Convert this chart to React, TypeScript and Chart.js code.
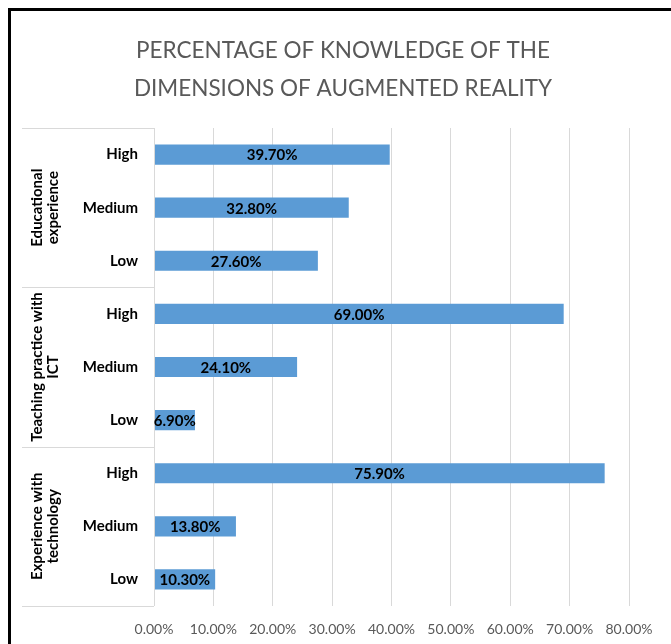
import React, { useEffect, useRef } from "react";
import { Chart, registerables } from "chart.js";

Chart.register(...registerables);

const titleLines = ["PERCENTAGE OF KNOWLEDGE OF THE", "DIMENSIONS OF AUGMENTED REALITY"];
const groups = [
  ["Educational", "experience"],
  ["Teaching practice with", "ICT"],
  ["Experience with", "technology"],
];
const levels = ["High", "Medium", "Low", "High", "Medium", "Low", "High", "Medium", "Low"];
const values = [39.7, 32.8, 27.6, 69.0, 24.1, 6.9, 75.9, 13.8, 10.3];
const xTicksMax = 80;
const xTickStep = 10;

const FONT = "Lato, 'Open Sans', sans-serif";

const groupPlugin = {
  id: "groupAxis",
  afterDraw(chart: any) {
    const { ctx, chartArea } = chart;
    const y = chart.scales.y;
    ctx.save();
    // title
    ctx.fillStyle = "#595959";
    ctx.font = `normal 22.5px ${FONT}`;
    ctx.textAlign = "center";
    ctx.textBaseline = "middle";
    titleLines.forEach((t, i) => {
      ctx.fillText(t, 332, 40 + i * 38);
    });

    ctx.strokeStyle = "#d9d9d9";
    ctx.lineWidth = 1;
    const leftX = 11;
    for (let g = 0; g <= groups.length; g++) {
      const py = Math.round(y.getPixelForValue(g * 3 - 0.5)) + 0.5;
      ctx.beginPath();
      ctx.moveTo(leftX, py);
      ctx.lineTo(chartArea.left, py);
      ctx.stroke();
    }
    ctx.beginPath();
    const ax = Math.round(chartArea.left) + 0.5;
    ctx.moveTo(ax, chartArea.top);
    ctx.lineTo(ax, chartArea.bottom);
    ctx.stroke();
    // group labels
    ctx.fillStyle = "#000000";
    ctx.font = `bold 15px ${FONT}`;
    groups.forEach((lines, g) => {
      const top = y.getPixelForValue(g * 3 - 0.5);
      const bot = y.getPixelForValue(g * 3 + 2.5);
      const cy = (top + bot) / 2;
      ctx.save();
      ctx.translate(34, cy);
      ctx.rotate(-Math.PI / 2);
      const lh = 16;
      lines.forEach((t, i) => {
        ctx.fillText(t, 0, (i - (lines.length - 1) / 2) * lh);
      });
      ctx.restore();
    });
    // data labels
    const meta = chart.getDatasetMeta(0);
    ctx.font = `bold 15px ${FONT}`;
    ctx.fillStyle = "#000000";
    meta.data.forEach((bar: any, i: number) => {
      const cx = (bar.x + bar.base) / 2;
      ctx.fillText(values[i].toFixed(2) + "%", cx, bar.y + 1);
    });
    ctx.restore();
  },
};

export default function App() {
  const ref = useRef<HTMLCanvasElement>(null);
  useEffect(() => {
    if (!ref.current) return;
    const chart = new Chart(ref.current, {
      type: "bar",
      data: {
        labels: levels,
        datasets: [
          {
            data: values,
            backgroundColor: "#5b9bd5",
            categoryPercentage: 1,
            barPercentage: 0.38,
          },
        ],
      },
      options: {
        indexAxis: "y",
        responsive: false,
        animation: false,
        devicePixelRatio: 1,
        layout: { padding: { top: 117, right: 42, bottom: 0, left: 0 } },
        plugins: {
          legend: { display: false },
          tooltip: { enabled: false },
          title: { display: false },
        },
        scales: {
          x: {
            min: 0,
            max: xTicksMax,
            ticks: {
              stepSize: xTickStep,
              color: "#595959",
              font: { family: FONT, size: 14 },
              padding: 15,
              callback: (v: any) => Number(v).toFixed(2) + "%",
            },
            grid: { color: "#d9d9d9", drawTicks: false },
            border: { display: false },
            afterFit: (s: any) => {
              s.height = 38;
            },
          },
          y: {
            ticks: {
              color: "#000000",
              font: { family: FONT, size: 15, weight: "bold" },
              padding: 16,
            },
            grid: { display: false, drawTicks: false },
            border: { display: false },
            afterFit: (s: any) => {
              s.width = 143;
            },
          },
        },
      },
      plugins: [groupPlugin],
    });
    return () => chart.destroy();
  }, []);
  return (
    <div
      style={{
        position: "absolute",
        left: 8,
        top: 8,
        width: 660,
        height: 633,
        borderLeft: "3px solid #000",
        borderTop: "3px solid #000",
        background: "#fff",
      }}
    >
      <canvas ref={ref} width={660} height={633} style={{ display: "block" }} />
    </div>
  );
}
